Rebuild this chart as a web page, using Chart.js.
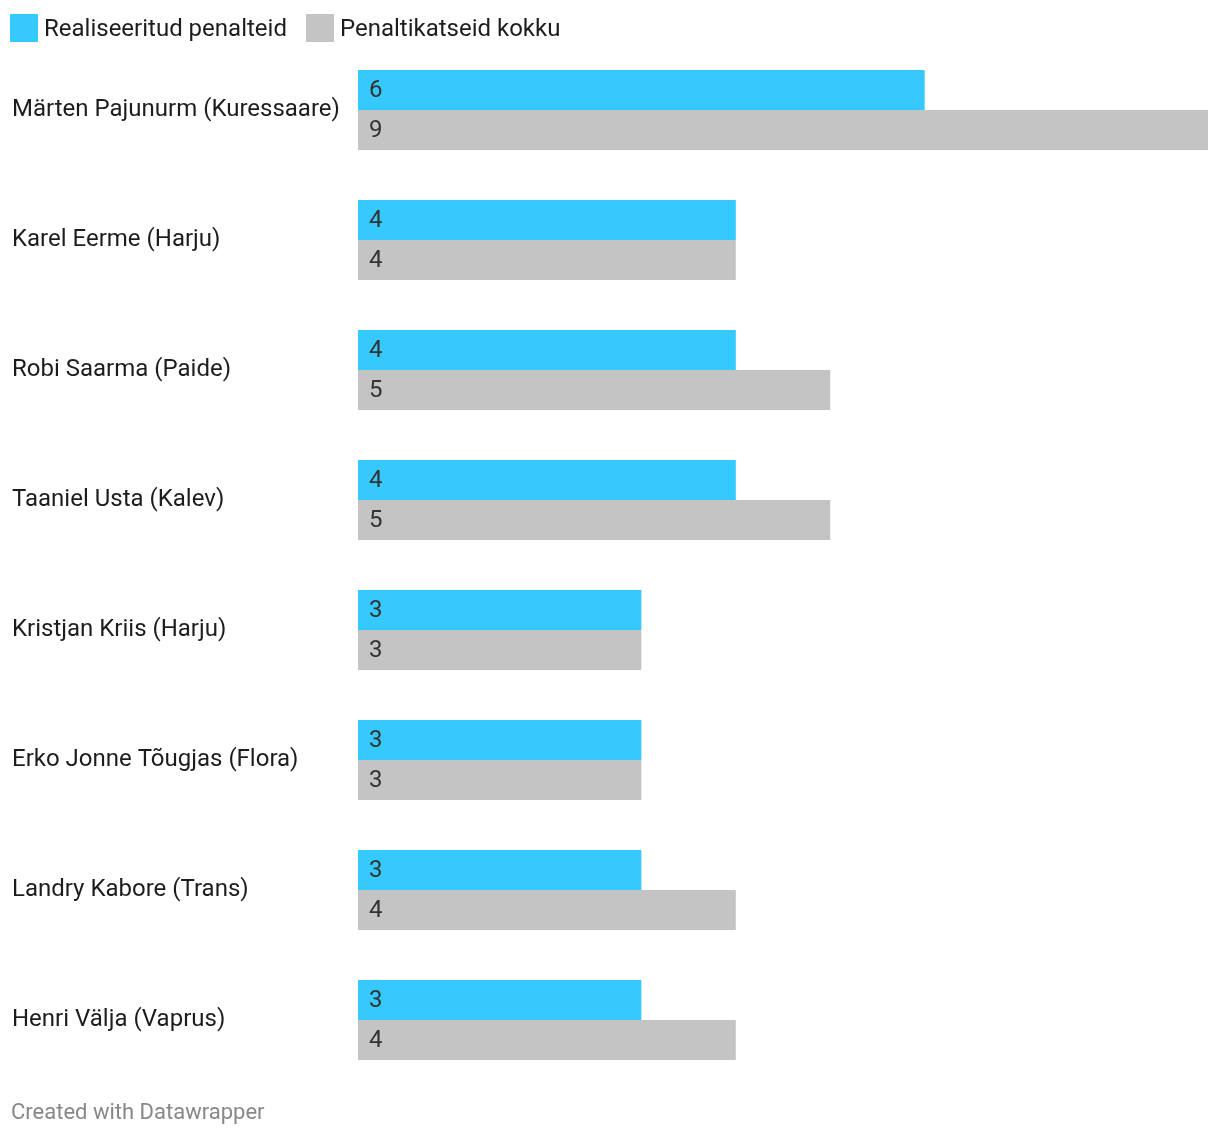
<!DOCTYPE html>
<html>
<head>
<meta charset="utf-8">
<script src="https://cdn.jsdelivr.net/npm/chart.js@4.4.0/dist/chart.umd.min.js"></script>
<style>
  body { margin: 0; background: #fff; font-family: Roboto, "Noto Sans", sans-serif; }
  #wrap { position: relative; width: 1220px; height: 1136px; }
  #legend { position: absolute; left: 10px; top: 14px; display: flex; align-items: center; font-size: 24px; color: #1d1d1d; }
  .item { display: flex; align-items: center; margin-right: 19px; }
  .sw { width: 28px; height: 28px; margin-right: 6px; }
  #footer { position: absolute; left: 11px; top: 1099px; font-size: 22px; color: #888; }
  #chartBox { position: absolute; left: 0; top: 0; width: 1220px; height: 1136px; }
</style>
</head>
<body>
<div id="wrap">
  <div id="chartBox"><canvas id="chart"></canvas></div>
  <div id="legend"></div>
  <div id="footer">Created with Datawrapper</div>
</div>
<script>
const players = [
  "Märten Pajunurm (Kuressaare)",
  "Karel Eerme (Harju)",
  "Robi Saarma (Paide)",
  "Taaniel Usta (Kalev)",
  "Kristjan Kriis (Harju)",
  "Erko Jonne Tõugjas (Flora)",
  "Landry Kabore (Trans)",
  "Henri Välja (Vaprus)"
];
const scored = [6, 4, 4, 4, 3, 3, 3, 3];
const attempts = [9, 4, 5, 5, 3, 3, 4, 4];
const seriesNames = ["Realiseeritud penalteid", "Penaltikatseid kokku"];
const seriesColors = ["#36c9fd", "#c4c4c4"];

document.getElementById("legend").innerHTML = seriesNames
  .map((name, i) => `<div class="item"><span class="sw" style="background:${seriesColors[i]}"></span>${name}</div>`)
  .join("");

const valueLabels = {
  id: "valueLabels",
  afterDatasetsDraw(chart) {
    const ctx = chart.ctx;
    ctx.save();
    ctx.font = "24px Roboto, sans-serif";
    ctx.fillStyle = "#333";
    ctx.textBaseline = "middle";
    ctx.textAlign = "left";
    chart.data.datasets.forEach((ds, di) => {
      chart.getDatasetMeta(di).data.forEach((bar, i) => {
        ctx.fillText(String(ds.data[i]), bar.base + 11, bar.y + 1);
      });
    });
    ctx.restore();
  }
};

new Chart(document.getElementById("chart").getContext("2d"), {
  type: "bar",
  data: {
    labels: players,
    datasets: [
      { label: seriesNames[0], data: scored, backgroundColor: seriesColors[0] },
      { label: seriesNames[1], data: attempts, backgroundColor: seriesColors[1] }
    ]
  },
  options: {
    indexAxis: "y",
    responsive: true,
    maintainAspectRatio: false,
    animation: false,
    layout: { padding: { left: 12, right: 12, top: 45, bottom: 51 } },
    datasets: { bar: { categoryPercentage: 80 / 130, barPercentage: 1 } },
    plugins: { legend: { display: false }, tooltip: { enabled: false } },
    scales: {
      x: { display: false, min: 0, max: 9 },
      y: {
        grid: { display: false },
        border: { display: false },
        afterFit(scale) { scale.width = 346; },
        ticks: {
          crossAlign: "far",
          color: "#1d1d1d",
          font: { family: "Roboto, sans-serif", size: 24 }
        }
      }
    }
  },
  plugins: [valueLabels]
});
</script>
</body>
</html>
